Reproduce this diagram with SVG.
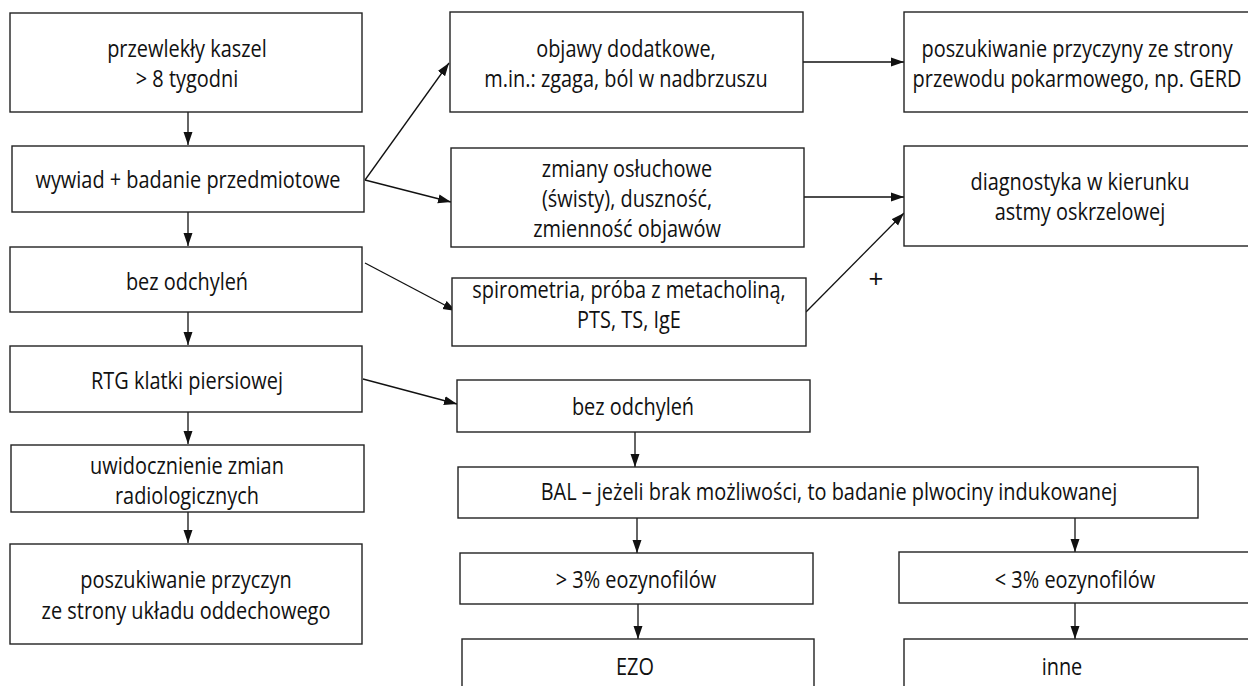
<svg xmlns="http://www.w3.org/2000/svg" width="1248" height="686" viewBox="0 0 1248 686">
<defs>
<style>
.box{fill:#fff;stroke:#222;stroke-width:1.4}
.t{font-family:"Open Sans","DejaVu Sans",sans-serif;font-size:24px;fill:#111;text-anchor:middle;transform-box:fill-box;transform-origin:center;transform:scaleX(0.83)}
.p{font-family:"Open Sans","DejaVu Sans",sans-serif;font-size:26px;fill:#111;text-anchor:middle}
.c{fill:none;stroke:#111;stroke-width:1.3}
</style>
<marker id="ah" markerUnits="userSpaceOnUse" markerWidth="14" markerHeight="10" refX="13" refY="5" orient="auto">
<path d="M0,0.5 L13,5 L0,9.5 z" fill="#111"/>
</marker>
</defs>
<rect width="1248" height="686" fill="#fff"/>
<g id="connectors">
<line class="c" x1="188" y1="112" x2="188" y2="145" marker-end="url(#ah)"/>
<line class="c" x1="188" y1="212" x2="188" y2="246" marker-end="url(#ah)"/>
<line class="c" x1="188" y1="312" x2="188" y2="345" marker-end="url(#ah)"/>
<line class="c" x1="188" y1="412" x2="188" y2="444" marker-end="url(#ah)"/>
<line class="c" x1="188" y1="512" x2="188" y2="543" marker-end="url(#ah)"/>
<line class="c" x1="365" y1="180" x2="449" y2="63" marker-end="url(#ah)"/>
<line class="c" x1="365" y1="180" x2="451" y2="202" marker-end="url(#ah)"/>
<line class="c" x1="365" y1="263" x2="456" y2="311" marker-end="url(#ah)"/>
<line class="c" x1="363" y1="379" x2="457" y2="404" marker-end="url(#ah)"/>
<line class="c" x1="803" y1="62" x2="904" y2="62" marker-end="url(#ah)"/>
<line class="c" x1="804" y1="197" x2="904" y2="197" marker-end="url(#ah)"/>
<line class="c" x1="806" y1="312" x2="904" y2="213" marker-end="url(#ah)"/>
<line class="c" x1="635" y1="432" x2="635" y2="467" marker-end="url(#ah)"/>
<line class="c" x1="637" y1="518" x2="637" y2="553" marker-end="url(#ah)"/>
<line class="c" x1="1075" y1="518" x2="1075" y2="552" marker-end="url(#ah)"/>
<line class="c" x1="638" y1="604" x2="638" y2="639" marker-end="url(#ah)"/>
<line class="c" x1="1075" y1="603" x2="1075" y2="639" marker-end="url(#ah)"/>
<text class="p" x="876" y="288">+</text>
</g>
<g id="n1"><rect class="box" x="10" y="13" width="352" height="99"/><text class="t" x="187" y="57">przewlekły kaszel</text><text class="t" x="187" y="87">&gt; 8 tygodni</text></g>
<g id="n2"><rect class="box" x="12" y="146" width="352" height="66"/><text class="t" x="188" y="188">wywiad + badanie przedmiotowe</text></g>
<g id="n3"><rect class="box" x="10" y="247" width="352" height="65"/><text class="t" x="187" y="290">bez odchyleń</text></g>
<g id="n4"><rect class="box" x="10" y="346" width="352" height="66"/><text class="t" x="187" y="389">RTG klatki piersiowej</text></g>
<g id="n5"><rect class="box" x="11" y="445" width="353" height="67"/><text class="t" x="187" y="474">uwidocznienie zmian</text><text class="t" x="187" y="504">radiologicznych</text></g>
<g id="n6"><rect class="box" x="10" y="544" width="352" height="100"/><text class="t" x="186" y="588">poszukiwanie przyczyn</text><text class="t" x="186" y="619">ze strony układu oddechowego</text></g>
<g id="n7"><rect class="box" x="450" y="12" width="353" height="100"/><text class="t" x="626" y="57">objawy dodatkowe,</text><text class="t" x="626" y="87">m.in.: zgaga, ból w nadbrzuszu</text></g>
<g id="n8"><rect class="box" x="451" y="148" width="353" height="99"/><text class="t" x="627" y="177">zmiany osłuchowe</text><text class="t" x="627" y="207">(świsty), duszność,</text><text class="t" x="627" y="237">zmienność objawów</text></g>
<g id="n9"><rect class="box" x="452" y="278" width="354" height="68"/><text class="t" x="629" y="298">spirometria, próba z metacholiną,</text><text class="t" x="629" y="328">PTS, TS, IgE</text></g>
<g id="n10"><rect class="box" x="457" y="380" width="353" height="52"/><text class="t" x="633" y="415">bez odchyleń</text></g>
<g id="n11"><rect class="box" x="458" y="467" width="740" height="51"/><text class="t" x="829" y="500">BAL – jeżeli brak możliwości, to badanie plwociny indukowanej</text></g>
<g id="n12"><rect class="box" x="460" y="553" width="353" height="51"/><text class="t" x="636" y="588">&gt; 3% eozynofilów</text></g>
<g id="n13"><rect class="box" x="462" y="639" width="352" height="70"/><text class="t" x="635" y="675">EZO</text></g>
<g id="n14"><rect class="box" x="904" y="12" width="360" height="100"/><text class="t" x="1077" y="57">poszukiwanie przyczyny ze strony</text><text class="t" x="1077" y="87">przewodu pokarmowego, np. GERD</text></g>
<g id="n15"><rect class="box" x="904" y="146" width="360" height="100"/><text class="t" x="1080" y="190">diagnostyka w kierunku</text><text class="t" x="1080" y="220">astmy oskrzelowej</text></g>
<g id="n16"><rect class="box" x="899" y="552" width="365" height="51"/><text class="t" x="1075" y="588">&lt; 3% eozynofilów</text></g>
<g id="n17"><rect class="box" x="904" y="639" width="360" height="70"/><text class="t" x="1062" y="675">inne</text></g>
</svg>
